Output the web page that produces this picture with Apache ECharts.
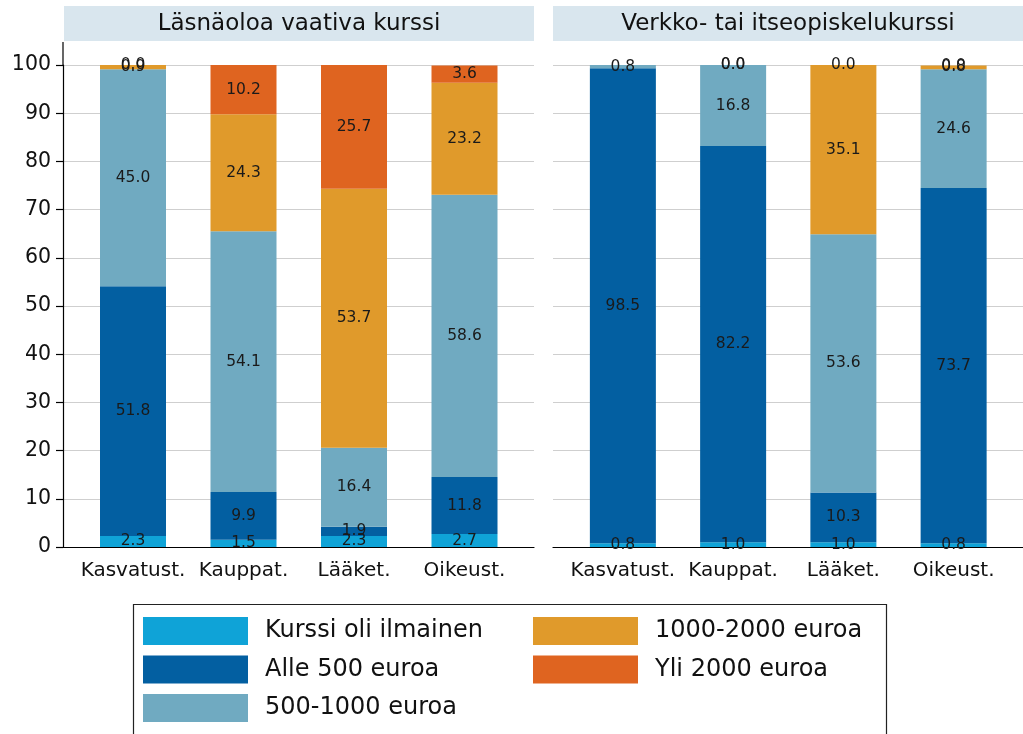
<!DOCTYPE html>
<html>
<head>
<meta charset="utf-8">
<script src="https://cdn.jsdelivr.net/npm/echarts@6/dist/echarts.min.js"></script>
<style>
  html, body { margin: 0; padding: 0; background: #fff; }
  #chart { width: 1023px; height: 734px; }
</style>
</head>
<body>
<div id="chart"></div>
<script>
// Course categories shown in both panels
const categories = ['Kasvatust.', 'Kauppat.', 'Lääket.', 'Oikeust.'];
const panelTitles = ['Läsnäoloa vaativa kurssi', 'Verkko- tai itseopiskelukurssi'];
const seriesNames = ['Kurssi oli ilmainen', 'Alle 500 euroa', '500-1000 euroa', '1000-2000 euroa', 'Yli 2000 euroa'];

// Läsnäoloa vaativa kurssi (%)
const presFree = [2.3, 1.5, 2.3, 2.7];
const presUnder500 = [51.8, 9.9, 1.9, 11.8];
const pres500to1000 = [45.0, 54.1, 16.4, 58.6];
const pres1000to2000 = [0.9, 24.3, 53.7, 23.2];
const presOver2000 = [0.0, 10.2, 25.7, 3.6];

// Verkko- tai itseopiskelukurssi (%)
const onlFree = [0.8, 1.0, 1.0, 0.8];
const onlUnder500 = [98.5, 82.2, 10.3, 73.7];
const onl500to1000 = [0.8, 16.8, 53.6, 24.6];
const onl1000to2000 = [0.0, 0.0, 35.1, 0.8];
const onlOver2000 = [0.0, 0.0, 0.0, 0.0];

const colors = ['#0fa3d7', '#035fa1', '#70aac1', '#e09a2b', '#df6420'];
const FONT = '"DejaVu Sans", "Liberation Sans", sans-serif';

const presSets = [presFree, presUnder500, pres500to1000, pres1000to2000, presOver2000];
const onlSets = [onlFree, onlUnder500, onl500to1000, onl1000to2000, onlOver2000];

// Bars live on grids 2 and 3; grids 0 and 1 carry the frame, y scale and gridlines
function makeSeries(sets, axisIdx) {
  return sets.map((vals, k) => ({
    name: seriesNames[k],
    type: 'bar',
    xAxisIndex: axisIdx,
    yAxisIndex: axisIdx,
    stack: 'total' + axisIdx,
    barWidth: 66,
    data: vals,
    itemStyle: { color: colors[k] },
    label: {
      show: true,
      position: 'inside',
      color: '#1a1a1a',
      fontFamily: FONT,
      fontSize: 15.5,
      formatter: p => p.value.toFixed(1)
    },
    emphasis: { disabled: true }
  }));
}

function frameX(gridIdx) {
  return {
    type: 'value', gridIndex: gridIdx, min: 0, max: 1,
    axisLine: { show: true, onZero: false, lineStyle: { color: '#000', width: 1.2 } },
    axisTick: { show: false }, axisLabel: { show: false }, splitLine: { show: false }
  };
}

function frameY(gridIdx, showAxis) {
  return {
    type: 'value', gridIndex: gridIdx, min: 0, max: 100, interval: 10,
    axisLine: { show: showAxis, lineStyle: { color: '#000', width: 1.2 } },
    axisTick: { show: showAxis, inside: false, length: 7, lineStyle: { color: '#000', width: 1.2 } },
    axisLabel: { show: showAxis, fontFamily: FONT, fontSize: 20.5, color: '#111', margin: 12 },
    splitLine: { show: true, lineStyle: { color: '#cfcfcf', width: 1.2 } }
  };
}

function barX(gridIdx) {
  return {
    type: 'category', gridIndex: gridIdx, data: categories,
    axisLine: { show: false }, axisTick: { show: false }, splitLine: { show: false },
    axisLabel: { interval: 0, fontFamily: FONT, fontSize: 20, color: '#111', margin: 14 }
  };
}

function barY(gridIdx) {
  return {
    type: 'value', gridIndex: gridIdx, min: 0, max: 100, show: false,
    splitLine: { show: false }
  };
}

const chart = echarts.init(document.getElementById('chart'), null, { renderer: 'canvas' });

const legendCommon = {
  orient: 'vertical',
  icon: 'rect',
  padding: 0,
  itemWidth: 105,
  itemHeight: 28,
  itemGap: 10.5,
  selectedMode: false,
  itemStyle: { borderWidth: 0 },
  textStyle: { fontFamily: FONT, fontSize: 24, color: '#111', padding: [0, 0, 0, 12] }
};

chart.setOption({
  animation: false,
  backgroundColor: '#fff',
  grid: [
    { left: 63, top: 65, width: 471, height: 482 },
    { left: 553, top: 65, width: 470, height: 482 },
    { left: 77.75, top: 65, width: 442, height: 482 },
    { left: 567.75, top: 65, width: 441, height: 482 }
  ],
  xAxis: [frameX(0), frameX(1), barX(2), barX(3)],
  yAxis: [frameY(0, true), frameY(1, false), barY(2), barY(3)],
  legend: [
    Object.assign({}, legendCommon, { left: 143, top: 617, data: seriesNames.slice(0, 3) }),
    Object.assign({}, legendCommon, { left: 533, top: 617, data: seriesNames.slice(3) })
  ],
  graphic: [
    { type: 'rect', shape: { x: 64, y: 6, width: 470, height: 35 }, style: { fill: '#d9e6ee' }, silent: true },
    { type: 'text', x: 299, y: 24, style: { text: panelTitles[0], fontFamily: FONT, fontSize: 23, fill: '#111', align: 'center', verticalAlign: 'middle' }, silent: true },
    { type: 'rect', shape: { x: 553, y: 6, width: 470, height: 35 }, style: { fill: '#d9e6ee' }, silent: true },
    { type: 'text', x: 788, y: 24, style: { text: panelTitles[1], fontFamily: FONT, fontSize: 23, fill: '#111', align: 'center', verticalAlign: 'middle' }, silent: true },
    // y axis line continues a little above the top gridline
    { type: 'line', shape: { x1: 63, y1: 42, x2: 63, y2: 65 }, style: { stroke: '#000', lineWidth: 1.2 }, silent: true },
    // legend frame
    { type: 'rect', shape: { x: 133.5, y: 604.5, width: 753, height: 140 }, style: { fill: null, stroke: '#222', lineWidth: 1.2 }, silent: true }
  ],
  series: makeSeries(presSets, 2).concat(makeSeries(onlSets, 3))
});
</script>
</body>
</html>
